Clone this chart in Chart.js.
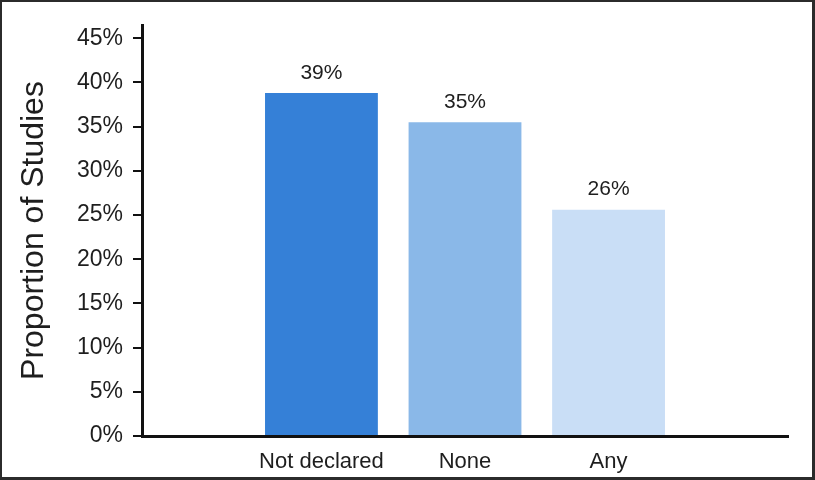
<!DOCTYPE html>
<html>
<head>
<meta charset="utf-8">
<script src="https://cdn.jsdelivr.net/npm/chart.js@4"></script>
<style>
  html, body { margin: 0; padding: 0; background: #fff; }
  #wrap { width: 815px; height: 480px; position: relative; }
</style>
</head>
<body>
<div id="wrap"><canvas id="chart"></canvas></div>
<script>
const categories = ['Not declared', 'None', 'Any'];
const proportions = [38.8, 35.5, 25.6];
const barLabels = ['39%', '35%', '26%'];
const barColors = ['#3580d7', '#8ab8e8', '#c9def6'];
const yTicks = [0, 5, 10, 15, 20, 25, 30, 35, 40, 45];

const FONT = '"Liberation Sans", Arial, Helvetica, sans-serif';
const INK = '#1e1e1e';

// value labels above each bar
const barValueLabels = {
  id: 'barValueLabels',
  afterDatasetsDraw(chart) {
    const ctx = chart.ctx;
    const meta = chart.getDatasetMeta(0);
    ctx.save();
    ctx.font = `21px ${FONT}`;
    ctx.fillStyle = INK;
    ctx.textAlign = 'center';
    ctx.textBaseline = 'alphabetic';
    meta.data.forEach((bar, i) => {
      ctx.fillText(barLabels[i], bar.x, bar.y - 14.5);
    });
    ctx.restore();
  },
};

// dark frame around the picture
const frame = {
  id: 'frame',
  afterDraw(chart) {
    const { ctx, width, height } = chart;
    ctx.save();
    ctx.fillStyle = '#2b2b2b';
    ctx.fillRect(0, 0, width, 2);
    ctx.fillRect(0, 0, 2, height);
    ctx.fillRect(width - 3, 0, 3, height);
    ctx.fillRect(0, height - 3, width, 3);
    ctx.restore();
  },
};

new Chart(document.getElementById('chart'), {
  type: 'bar',
  data: {
    datasets: [
      {
        data: proportions.map((v, i) => ({ x: i, y: v })),
        backgroundColor: barColors,
        borderWidth: 0,
        barPercentage: 0.786,
        categoryPercentage: 1,
      },
    ],
  },
  options: {
    responsive: true,
    maintainAspectRatio: false,
    animation: false,
    layout: { padding: { top: 25, right: 27, bottom: 0, left: 0 } },
    plugins: {
      legend: { display: false },
      tooltip: { enabled: false },
    },
    scales: {
      x: {
        type: 'linear',
        min: -1.25,
        max: 3.25,
        offset: false,
        afterBuildTicks: (scale) => {
          scale.ticks = categories.map((_, i) => ({ value: i }));
        },
        afterFit: (scale) => { scale.height = 44; },
        grid: { display: false },
        border: { display: true, color: '#111', width: 3 },
        ticks: {
          autoSkip: false,
          maxRotation: 0,
          padding: 5,
          color: INK,
          font: { family: FONT, size: 22 },
          callback: (value) => categories[value] ?? '',
        },
      },
      y: {
        min: 0,
        max: 46.5,
        afterBuildTicks: (scale) => {
          scale.ticks = yTicks.map((v) => ({ value: v }));
        },
        afterFit: (scale) => { scale.width = 142; },
        grid: {
          display: true,
          drawOnChartArea: false,
          drawTicks: true,
          tickLength: 9,
          color: '#111',
          lineWidth: 2,
        },
        border: { display: true, color: '#111', width: 3 },
        ticks: {
          padding: 10,
          color: INK,
          font: { family: FONT, size: 23 },
          callback: (value) => `${value}%`,
        },
        title: {
          display: true,
          text: 'Proportion of Studies',
          color: INK,
          font: { family: FONT, size: 32 },
          padding: { top: 15, bottom: 0 },
        },
      },
    },
  },
  plugins: [barValueLabels, frame],
});
</script>
</body>
</html>
